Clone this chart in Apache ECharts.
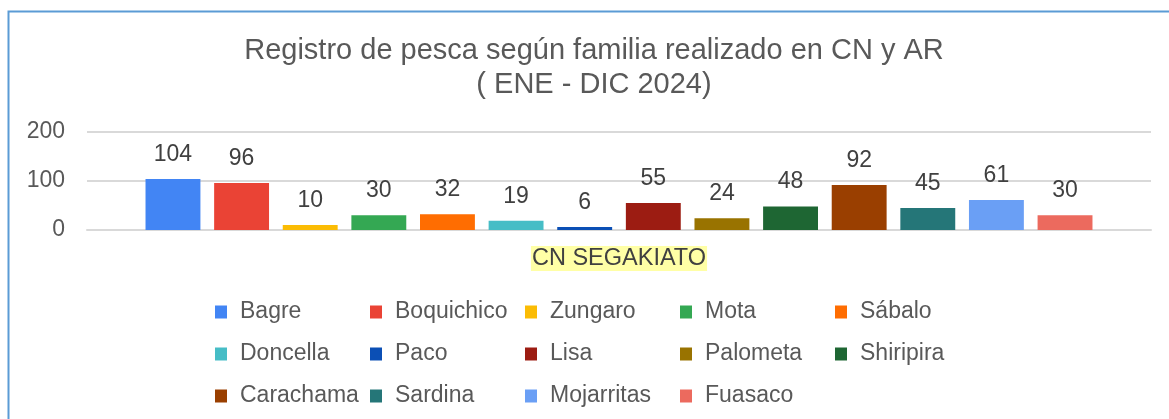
<!DOCTYPE html>
<html>
<head>
<meta charset="utf-8">
<script src="https://cdn.jsdelivr.net/npm/echarts@6/dist/echarts.min.js"></script>
<style>
  html, body { margin: 0; padding: 0; background: #fff; }
  #chart { width: 1169px; height: 419px; }
</style>
</head>
<body>
<div id="chart"></div>
<script>
// datos del grafico
var categorias = ["CN SEGAKIATO"];
var familias = [
  "Bagre", "Boquichico", "Zungaro", "Mota", "Sábalo",
  "Doncella", "Paco", "Lisa", "Palometa", "Shiripira",
  "Carachama", "Sardina", "Mojarritas", "Fuasaco"
];
var capturas = [104, 96, 10, 30, 32, 19, 6, 55, 24, 48, 92, 45, 61, 30];
var colores = [
  "#4285f4", "#ea4335", "#fbbc04", "#34a853", "#ff6d01",
  "#46bdc6", "#0b4fb5", "#9c1c12", "#997300", "#1e6633",
  "#9a3f00", "#257678", "#6a9ff5", "#ec6a5e"
];
var ejeY = [0, 100, 200];

var chart = echarts.init(document.getElementById("chart"));

var series = [];
for (var i = 0; i < familias.length; i++) {
  series.push({
    name: familias[i],
    type: "bar",
    data: [capturas[i]],
    barGap: "25%",
    barCategoryGap: "11%",
    itemStyle: { color: colores[i] },
    label: {
      show: true,
      position: "top",
      distance: 13,
      color: "#404040",
      fontSize: 23,
      fontFamily: "Liberation Sans, Arial"
    }
  });
}

var option = {
  animation: false,
  textStyle: { fontFamily: "Liberation Sans, Arial" },
  graphic: [
    {
      type: "rect",
      shape: { x: 8.5, y: 11.5, width: 1200, height: 500 },
      style: { fill: "none", stroke: "#5b9bd5", lineWidth: 2 }
    }
  ],
  title: {
    text: "Registro de pesca según familia realizado en CN y AR\n( ENE - DIC 2024)",
    left: 594,
    textAlign: "center",
    top: 34,
    padding: 0,
    textStyle: {
      color: "#595959",
      fontSize: 29,
      fontWeight: "normal",
      lineHeight: 34
    }
  },
  legend: {
    data: familias,
    left: 210,
    top: 286,
    width: 800,
    itemGap: 0,
    itemWidth: 12,
    itemHeight: 13,
    icon: "rect",
    textStyle: {
      color: "#595959",
      fontSize: 23,
      lineHeight: 42,
      width: 130,
      overflow: "none",
      padding: [0, 0, 0, 8]
    }
  },
  grid: {
    left: 87,
    right: 18,
    top: 132,
    bottom: 189
  },
  xAxis: {
    type: "category",
    data: categorias,
    axisTick: { show: false },
    axisLine: { show: true, lineStyle: { color: "#d9d9d9", width: 2 } },
    axisLabel: {
      color: "#404040",
      fontSize: 23.5,
      margin: 16,
      backgroundColor: "#ffffa6",
      padding: [1, 1, 0, 1]
    }
  },
  yAxis: {
    type: "value",
    min: ejeY[0],
    max: ejeY[ejeY.length - 1],
    interval: 100,
    axisLine: { show: false },
    axisTick: { show: false },
    axisLabel: { color: "#595959", fontSize: 23, margin: 22 },
    splitLine: { lineStyle: { color: "#d9d9d9", width: 2 } }
  },
  series: series
};

chart.setOption(option);
</script>
</body>
</html>
